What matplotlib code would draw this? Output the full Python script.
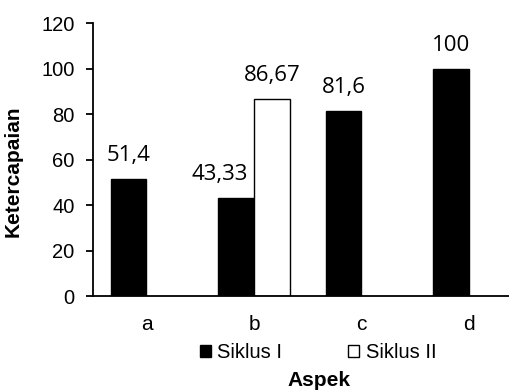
import matplotlib
matplotlib.use("Agg")
import matplotlib.pyplot as plt
import numpy as np

categories = ["a", "b", "c", "d"]
siklus1 = [51.4, 43.33, 81.6, 100]
siklus2 = [None, 86.67, None, None]
yticks = [0, 20, 40, 60, 80, 100, 120]
series_names = ["Siklus I", "Siklus II"]

plt.rcParams['font.family'] = ['Liberation Sans', 'DejaVu Sans']

fig = plt.figure(figsize=(5.1, 3.9), dpi=100)
ax = fig.add_axes([92.7/510, 1-296/390, (522.7-92.7)/510, (296-23.3)/390])

x = np.arange(len(categories))
w = 1/3
s1 = [v if v is not None else 0 for v in siklus1]
s2 = [v if v is not None else np.nan for v in siklus2]
b1 = ax.bar(x - w/2, s1, w, color='black', edgecolor='black', linewidth=1, label=series_names[0])
b2 = ax.bar(x + w/2, s2, w, color='white', edgecolor='black', linewidth=1, label=series_names[1])

label_dx = {("s1", 1): -16}
def fmt(v):
    s = ("%.2f" % v).rstrip('0').rstrip('.')
    return s.replace('.', ',')

lab_font = dict(fontsize=16, family=['Open Sans', 'DejaVu Sans'])
for i, v in enumerate(siklus1):
    if v is None:
        continue
    ax.annotate(fmt(v), (x[i] - w/2, v), xytext=(label_dx.get(("s1", i), 0), 18),
                textcoords='offset pixels', ha='center', va='baseline', **lab_font)
for i, v in enumerate(siklus2):
    if v is None:
        continue
    ax.annotate(fmt(v), (x[i] + w/2, v), xytext=(0, 18),
                textcoords='offset pixels', ha='center', va='baseline', **lab_font)

ax.set_xlim(-0.5, 3.5)
ax.set_ylim(0, 120)
ax.set_yticks(yticks)
ax.set_xticks(x)
ax.set_xticklabels(categories)
ax.tick_params(axis='x', length=0, pad=14, labelsize=15)
ax.tick_params(axis='y', length=5, width=1.3, pad=8, labelsize=14.5)
for s in ['top', 'right']:
    ax.spines[s].set_visible(False)
for s in ['left', 'bottom']:
    ax.spines[s].set_linewidth(1.3)

ax.set_ylabel("Ketercapaian", fontsize=15, fontweight='bold')
ax.yaxis.set_label_coords(-(92.7-23)/430, (296-171)/272.7)
fig.text(319/510, 1-380/390, "Aspek", ha='center', va='center', fontsize=15, fontweight='bold')

fig.legend(handles=[b1, b2], labels=series_names, loc='center', bbox_to_anchor=(318/510, 1-353/390),
           ncol=2, frameon=False, fontsize=14.5, handlelength=0.55, handleheight=0.55,
           handletextpad=0.3, columnspacing=3.3, borderaxespad=0)

fig.savefig("out.png", dpi=100)
